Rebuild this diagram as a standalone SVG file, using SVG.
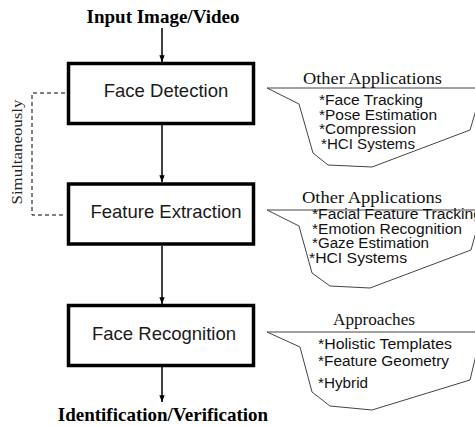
<svg xmlns="http://www.w3.org/2000/svg" width="475" height="426" viewBox="0 0 475 426">
<style>
.box{fill:#fff;stroke:#000;stroke-width:3.5}
.lbl{font-family:"Liberation Sans",Arial,sans-serif;font-size:18.5px;fill:#1a1a1a;text-anchor:middle}
.ttl{font-family:"Liberation Serif","Times New Roman",serif;font-size:19px;font-weight:bold;fill:#000;text-anchor:middle}
.co{fill:#fff;stroke:#444;stroke-width:1}
.ch{font-family:"Liberation Serif","Times New Roman",serif;font-size:16px;fill:#111}
.ci{font-family:"Liberation Sans",Arial,sans-serif;font-size:14px;fill:#111}
.arr{stroke:#000;stroke-width:1.5;fill:none;marker-end:url(#ah)}
.dash{stroke:#000;stroke-width:1;fill:none;stroke-dasharray:4,3}
</style>
<defs>
<marker id="ah" viewBox="0 0 10 10" refX="10" refY="5" markerWidth="4.5" markerHeight="4.5" orient="auto" markerUnits="strokeWidth">
<path d="M0,1 L10,5 L0,9 z" fill="#000"/>
</marker>
</defs>

<text class="ttl" x="163" y="23">Input Image/Video</text>
<text class="ttl" x="163" y="421">Identification/Verification</text>

<g id="connectors">
<line class="arr" x1="162" y1="28" x2="162" y2="62"/>
<line class="arr" x1="162" y1="125" x2="162" y2="182"/>
<line class="arr" x1="162" y1="246" x2="162" y2="304"/>
<line class="arr" x1="162" y1="367" x2="162" y2="402"/>
<polyline class="dash" points="65,93 32,93 32,215 65,215"/>
<text font-family="Liberation Serif,Times New Roman,serif" font-size="14" fill="#222" text-anchor="middle" transform="translate(22,152) rotate(-90)" textLength="105" lengthAdjust="spacingAndGlyphs">Simultaneously</text>
</g>

<g id="face-detection">
<rect class="box" x="68.5" y="63.5" width="185" height="60"/>
<text class="lbl" x="166" y="97">Face Detection</text>
</g>

<g id="feature-extraction">
<rect class="box" x="68.5" y="184" width="185" height="60"/>
<text class="lbl" x="166" y="218">Feature Extraction</text>
</g>

<g id="face-recognition">
<rect class="box" x="68.5" y="305.5" width="185" height="60"/>
<text class="lbl" x="164" y="340">Face Recognition</text>
</g>

<g id="callout-detection">
<polygon class="co" points="267,88 480,88 476,110 470,130 372,167 328,165 313,153 299,104"/>
<text class="ch" x="303" y="84" textLength="139" lengthAdjust="spacingAndGlyphs">Other Applications</text>
<text class="ci" x="319" y="105" textLength="104" lengthAdjust="spacingAndGlyphs">*Face Tracking</text>
<text class="ci" x="319" y="119.5" textLength="118" lengthAdjust="spacingAndGlyphs">*Pose Estimation</text>
<text class="ci" x="319" y="134" textLength="97" lengthAdjust="spacingAndGlyphs">*Compression</text>
<text class="ci" x="321" y="149" textLength="94" lengthAdjust="spacingAndGlyphs">*HCI Systems</text>
</g>

<g id="callout-extraction">
<polygon class="co" points="267,210 480,210 476,232 471,250 370,288 330,286 312,273 299,226"/>
<text class="ch" x="302" y="203" textLength="140" lengthAdjust="spacingAndGlyphs">Other Applications</text>
<text class="ci" x="312" y="219" textLength="170" lengthAdjust="spacingAndGlyphs">*Facial Feature Tracking</text>
<text class="ci" x="312" y="233.5" textLength="150" lengthAdjust="spacingAndGlyphs">*Emotion Recognition</text>
<text class="ci" x="312" y="248" textLength="117" lengthAdjust="spacingAndGlyphs">*Gaze Estimation</text>
<text class="ci" x="309" y="262.5" textLength="98" lengthAdjust="spacingAndGlyphs">*HCI Systems</text>
</g>

<g id="callout-recognition">
<polygon class="co" points="267,332 480,332 476,355 470,380 372,410 330,406 312,392 300,347"/>
<text class="ch" x="333" y="325" textLength="82" lengthAdjust="spacingAndGlyphs">Approaches</text>
<text class="ci" x="318" y="349" textLength="134" lengthAdjust="spacingAndGlyphs">*Holistic Templates</text>
<text class="ci" x="318" y="366" textLength="131" lengthAdjust="spacingAndGlyphs">*Feature Geometry</text>
<text class="ci" x="318" y="388" textLength="50" lengthAdjust="spacingAndGlyphs">*Hybrid</text>
</g>
</svg>
